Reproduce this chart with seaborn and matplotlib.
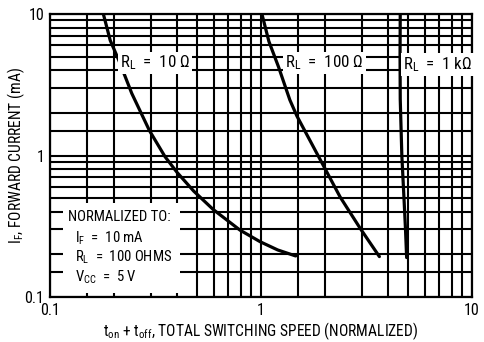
import matplotlib
matplotlib.use("Agg")
import matplotlib.pyplot as plt
from matplotlib.ticker import FixedLocator, NullFormatter, FixedFormatter
from matplotlib.patches import Rectangle
import pandas as pd
import seaborn as sns

# Switching speed (normalized) vs forward current (mA) for three load resistances
rl10_speed = [0.179, 0.193, 0.212, 0.244, 0.296, 0.351, 0.40, 0.48, 0.594, 0.795, 0.99, 1.2, 1.46]
rl10_current = [10, 6.5, 4.7, 2.75, 1.5, 0.98, 0.76, 0.56, 0.415, 0.297, 0.246, 0.215, 0.195]

rl100_speed = [1.01, 1.09, 1.21, 1.37, 1.48, 1.95, 2.37, 2.95, 3.64]
rl100_current = [10, 6.4, 4.24, 2.47, 1.9, 0.88, 0.51, 0.306, 0.193]

rl1k_speed = [4.57, 4.56, 4.57, 4.65, 4.76, 4.84, 4.90]
rl1k_current = [10, 5, 2.5, 1.0, 0.5, 0.3, 0.19]

curve_names = ["10", "100", "1k"]
curve_labels = [r"R$_{\mathregular{L}}$  =  10 Ω",
                r"R$_{\mathregular{L}}$  =  100 Ω",
                r"R$_{\mathregular{L}}$  =  1 kΩ"]

major_ticks = [0.1, 1, 10]
major_labels = ["0.1", "1", "10"]
minor_grid = [0.15, 0.2, 0.3, 0.4, 0.5, 0.6, 0.7, 0.8, 0.9,
              1.5, 2, 3, 4, 5, 6, 7, 8, 9]

note_lines = ["NORMALIZED TO:",
              r"I$_{\mathregular{F}}$  =  10 mA",
              r"R$_{\mathregular{L}}$  =  100 OHMS",
              r"V$_{\mathregular{CC}}$  =  5 V"]

df = pd.concat([
    pd.DataFrame({"speed": rl10_speed, "current": rl10_current, "RL": "10"}),
    pd.DataFrame({"speed": rl100_speed, "current": rl100_current, "RL": "100"}),
    pd.DataFrame({"speed": rl1k_speed, "current": rl1k_current, "RL": "1k"}),
], ignore_index=True)

sns.set_theme(style="white")
plt.rcParams["font.family"] = ["Roboto Condensed", "DejaVu Sans"]
plt.rcParams["mathtext.default"] = "regular"

fig = plt.figure(figsize=(4.84, 3.42), dpi=100)
ax = fig.add_axes([50 / 484, 45 / 342, 422 / 484, 283 / 342])

ax.set_xscale("log")
ax.set_yscale("log")
ax.set_xlim(0.1, 10)
ax.set_ylim(0.1, 10)

for axis in (ax.xaxis, ax.yaxis):
    axis.set_major_locator(FixedLocator(major_ticks))
    axis.set_major_formatter(FixedFormatter(major_labels))
    axis.set_minor_locator(FixedLocator(minor_grid))
    axis.set_minor_formatter(NullFormatter())

ax.grid(which="both", color="black", linewidth=1.5, zorder=1)
ax.set_axisbelow(True)
ax.tick_params(which="both", length=0, labelsize=11.5, colors="black", pad=4)

sns.lineplot(data=df, x="speed", y="current", hue="RL", hue_order=curve_names,
             palette=["black"] * 3, sort=False, estimator=None, legend=False,
             linewidth=2.3, ax=ax, zorder=3)
for line in ax.lines:
    line.set_solid_capstyle("round")
    line.set_solid_joinstyle("round")

for sp in ax.spines.values():
    sp.set_color("black")
    sp.set_linewidth(1.6)

label_pos = [(0.314, 4.5), (2.0, 4.5), (6.86, 4.4)]
for (x, y), txt in zip(label_pos, curve_labels):
    ax.text(x, y, txt, ha="center", va="center", fontsize=12.2, color="black",
            zorder=4, bbox=dict(facecolor="white", edgecolor="none", pad=1.5))

# Normalization conditions block
ax.add_patch(Rectangle((0.031, 0.014), 0.276, 0.318, transform=ax.transAxes,
                       facecolor="white", edgecolor="none", zorder=2))
note_y = [0.283, 0.208, 0.141, 0.071]
note_x = [0.043, 0.059, 0.059, 0.059]
for x, y, txt in zip(note_x, note_y, note_lines):
    ax.text(x, y, txt, transform=ax.transAxes, ha="left", va="center",
            fontsize=10.6, color="black", zorder=4)

ax.set_xlabel(r"t$_{\mathregular{on}}$ + t$_{\mathregular{off}}$, TOTAL SWITCHING SPEED (NORMALIZED)",
              fontsize=11.2, color="black", labelpad=2)
ax.set_ylabel(r"I$_{\mathregular{F}}$, FORWARD CURRENT (mA)",
              fontsize=11.2, color="black")
ax.yaxis.set_label_coords(-0.054, 0.5)

fig.savefig("out.png", dpi=100, facecolor="white")
